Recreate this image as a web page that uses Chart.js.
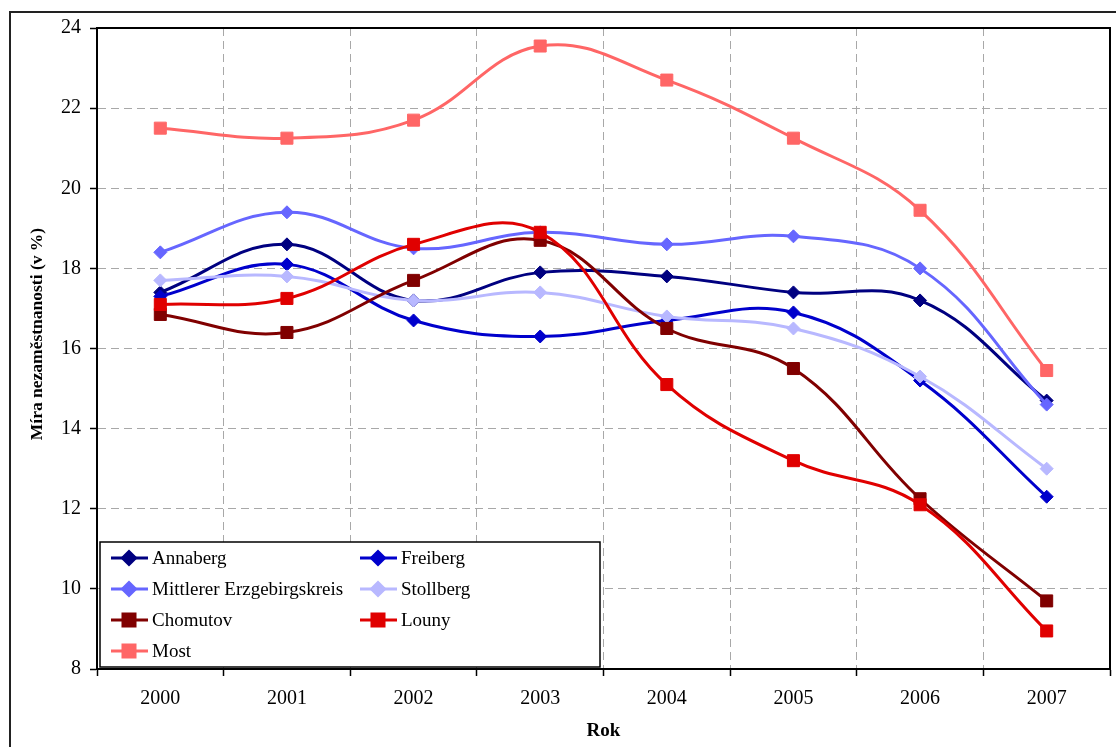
<!DOCTYPE html>
<html>
<head>
<meta charset="utf-8">
<script src="https://cdn.jsdelivr.net/npm/chart.js"></script>
<style>
  html, body { margin: 0; padding: 0; background: #fff; overflow: hidden; }
  canvas { display: block; }
</style>
</head>
<body>
<canvas id="myChart" width="1116" height="747"></canvas>
<script>
const years = ['2000', '2001', '2002', '2003', '2004', '2005', '2006', '2007'];

const annaberg  = [17.4, 18.6, 17.2, 17.9, 17.8, 17.4, 17.2, 14.7];
const freiberg  = [17.3, 18.1, 16.7, 16.3, 16.7, 16.9, 15.2, 12.3];
const mittlerer = [18.4, 19.4, 18.5, 18.9, 18.6, 18.8, 18.0, 14.6];
const stollberg = [17.7, 17.8, 17.2, 17.4, 16.8, 16.5, 15.3, 13.0];
const chomutov  = [16.85, 16.4, 17.7, 18.7, 16.5, 15.5, 12.25, 9.7];
const louny     = [17.1, 17.25, 18.6, 18.9, 15.1, 13.2, 12.1, 8.95];
const most      = [21.5, 21.25, 21.7, 23.55, 22.7, 21.25, 19.45, 15.45];

const FONT = '"Liberation Serif", "Times New Roman", serif';
const Y_TITLE = 'Míra nezaměstnanosti (v %)';

function series(label, values, color, style, radius, idx) {
    return {
        label: label,
        data: values,
        borderColor: color,
        backgroundColor: color,
        borderWidth: 3,
        pointStyle: style,
        pointRadius: radius,
        pointHoverRadius: radius,
        pointBorderWidth: 1,
        tension: 0.4,
        order: 10 - idx   // later series on top, like the original
    };
}

const data = {
    labels: years,
    datasets: [
        series('Annaberg', annaberg, '#000080', 'rectRot', 6.5, 0),
        series('Freiberg', freiberg, '#0000CC', 'rectRot', 6.5, 1),
        series('Mittlerer Erzgebirgskreis', mittlerer, '#6666FF', 'rectRot', 6.5, 2),
        series('Stollberg', stollberg, '#B8B8FF', 'rectRot', 6.5, 3),
        series('Chomutov', chomutov, '#800000', 'rect', 8.5, 4),
        series('Louny', louny, '#E00000', 'rect', 8.5, 5),
        series('Most', most, '#FF6666', 'rect', 8.5, 6)
    ]
};

// outer frame, plot frame, y axis title
const framePlugin = {
    id: 'frames',
    beforeDraw(chart) {
        const c = chart.ctx;
        c.save();
        c.fillStyle = '#fff';
        c.fillRect(0, 0, chart.width, chart.height);
        c.strokeStyle = '#222';
        c.lineWidth = 2;
        c.strokeRect(10, 12, chart.width + 20, chart.height + 20);
        // y title, centred a little above the plot middle as in the original
        c.translate(37, 334);
        c.rotate(-Math.PI / 2);
        c.fillStyle = '#000';
        c.font = 'bold 17.5px ' + FONT;
        c.textAlign = 'center';
        c.textBaseline = 'middle';
        c.fillText(Y_TITLE, 0, 0);
        c.restore();
    },
    beforeDatasetsDraw(chart) {
        const a = chart.chartArea;
        const c = chart.ctx;
        c.save();
        c.strokeStyle = '#000';
        c.lineWidth = 2;
        c.strokeRect(a.left, a.top, a.right - a.left, a.bottom - a.top);
        c.restore();
    }
};

// legend box inside the plot, bottom left, two columns
const legendPlugin = {
    id: 'boxLegend',
    afterDraw(chart) {
        const a = chart.chartArea;
        const c = chart.ctx;
        const x0 = a.left + 3, y0 = a.bottom - 127, w = 500, h = 125;
        c.save();
        c.fillStyle = '#fff';
        c.fillRect(x0, y0, w, h);
        c.strokeStyle = '#000';
        c.lineWidth = 1.5;
        c.strokeRect(x0, y0, w, h);
        c.font = '19px ' + FONT;
        c.textBaseline = 'middle';
        chart.data.datasets.forEach((ds, i) => {
            const col = i % 2, row = Math.floor(i / 2);
            const lx = x0 + 11 + col * 249;
            const ly = y0 + 16 + row * 31;
            c.strokeStyle = ds.borderColor;
            c.lineWidth = 3;
            c.beginPath();
            c.moveTo(lx, ly);
            c.lineTo(lx + 37, ly);
            c.stroke();
            c.fillStyle = ds.backgroundColor;
            Chart.helpers.drawPoint(c, {
                pointStyle: ds.pointStyle, radius: ds.pointRadius, rotation: 0, borderWidth: 1
            }, lx + 18, ly);
            c.fillStyle = '#000';
            c.fillText(ds.label, lx + 41, ly + 1);
        });
        c.restore();
    }
};

const config = {
    type: 'line',
    data: data,
    options: {
        responsive: false,
        animation: false,
        layout: {
            autoPadding: false,
            padding: {left: 10, top: 28, right: 6, bottom: 0}
        },
        plugins: {
            legend: {display: false},
            tooltip: {enabled: false}
        },
        scales: {
            x: {
                offset: true,
                grid: {
                    offset: true,
                    color: '#a8a8a8',
                    lineWidth: 1,
                    tickLength: 7,
                    tickColor: '#000',
                    tickWidth: 1.5,
                    tickBorderDash: []
                },
                border: {display: true, color: '#000', width: 2, dash: [8, 5]},
                ticks: {color: '#000', font: {family: FONT, size: 20}, padding: 11},
                title: {
                    display: true,
                    text: 'Rok',
                    color: '#000',
                    font: {family: FONT, size: 19, weight: 'bold'},
                    padding: {top: 0, bottom: 5}
                },
                afterFit(scale) {
                    scale.height = 78;
                    scale.paddingLeft = 0;
                    scale.paddingRight = 0;
                }
            },
            y: {
                min: 8,
                max: 24,
                ticks: {stepSize: 2, color: '#000', font: {family: FONT, size: 20}, padding: 9},
                grid: {
                    color: '#a8a8a8',
                    lineWidth: 1,
                    tickLength: 7,
                    tickColor: '#000',
                    tickWidth: 1.5,
                    tickBorderDash: []
                },
                border: {display: true, color: '#000', width: 2, dash: [8, 5]},
                afterFit(scale) { scale.width = 87; }
            }
        }
    },
    plugins: [framePlugin, legendPlugin]
};

const myChart = new Chart(document.getElementById('myChart'), config);
</script>
</body>
</html>
